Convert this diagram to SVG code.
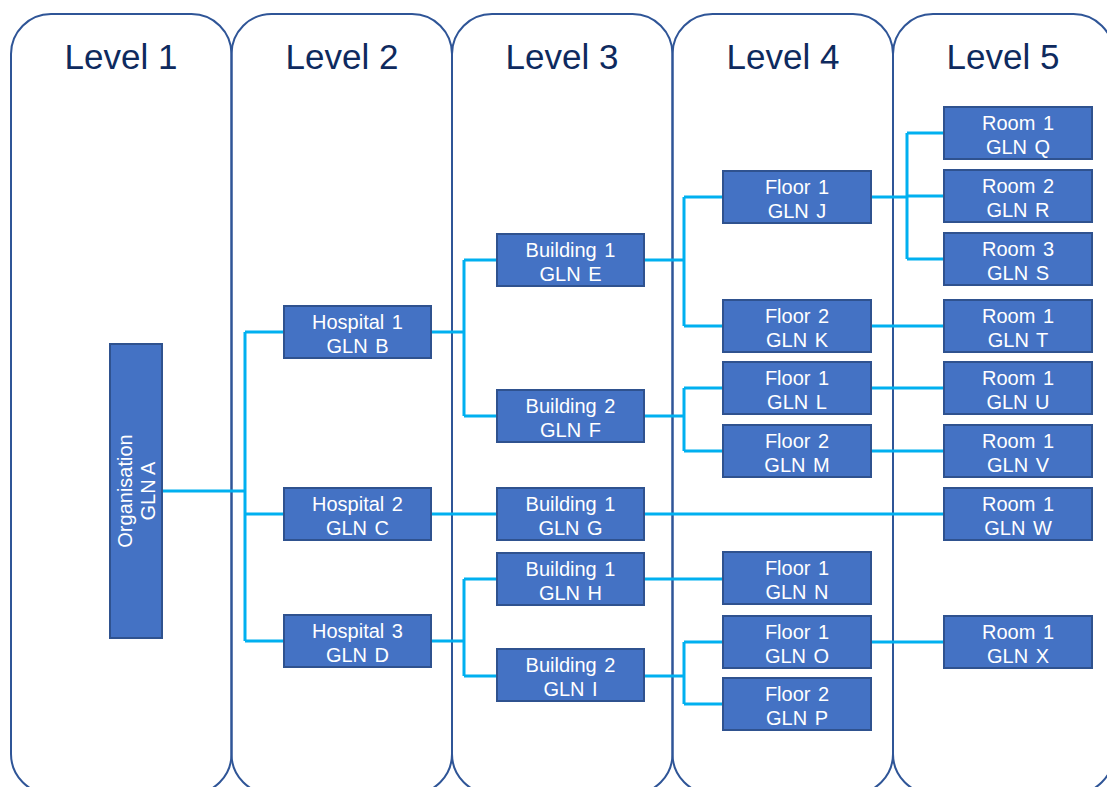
<svg xmlns="http://www.w3.org/2000/svg" width="1107" height="787" viewBox="0 0 1107 787">
<style>
.col{fill:none;stroke:#2F5597;stroke-width:2}
.lvl{font-family:"Liberation Sans",Arial,sans-serif;font-size:35px;fill:#0E2A5E;text-anchor:middle}
.box{fill:#4472C4;stroke:#2F528F;stroke-width:2}
.t{font-family:"Liberation Sans",Arial,sans-serif;font-size:20px;fill:#FFFFFF;text-anchor:middle;word-spacing:2px}
.ot{font-family:"Liberation Sans",Arial,sans-serif;font-size:20px;fill:#FFFFFF;text-anchor:middle}
.c{fill:none;stroke:#00B0F0;stroke-width:3}
</style>
<rect width="1107" height="787" fill="#FFFFFF"/>
<g id="columns">
<rect class="col" x="11" y="14" width="220.5" height="780" rx="40" ry="40"/>
<rect class="col" x="231.5" y="14" width="220.5" height="780" rx="40" ry="40"/>
<rect class="col" x="452" y="14" width="220.5" height="780" rx="40" ry="40"/>
<rect class="col" x="672.5" y="14" width="220.5" height="780" rx="40" ry="40"/>
<rect class="col" x="893" y="14" width="220.5" height="780" rx="40" ry="40"/>
<text class="lvl" x="121" y="69">Level 1</text>
<text class="lvl" x="342" y="69">Level 2</text>
<text class="lvl" x="562" y="69">Level 3</text>
<text class="lvl" x="783" y="69">Level 4</text>
<text class="lvl" x="1003" y="69">Level 5</text>
</g>
<g id="connectors">
<path class="c" d="M162,491 H245 M245,332 V641 M245,332 H284 M245,514 H284 M245,641 H284"/>
<path class="c" d="M431,332 H464 M464,260 V416 M464,260 H497 M464,416 H497"/>
<path class="c" d="M431,514 H497"/>
<path class="c" d="M431,641 H464 M464,579 V676 M464,579 H497 M464,676 H497"/>
<path class="c" d="M644,260 H684 M684,197 V326 M684,197 H723 M684,326 H723"/>
<path class="c" d="M644,416 H684 M684,388 V451 M684,388 H723 M684,451 H723"/>
<path class="c" d="M644,514 H944"/>
<path class="c" d="M644,579 H723"/>
<path class="c" d="M644,676 H684 M684,642 V704 M684,642 H723 M684,704 H723"/>
<path class="c" d="M871,197 H907 M907,133 V259 M907,133 H944 M907,196 H944 M907,259 H944"/>
<path class="c" d="M871,326 H944"/>
<path class="c" d="M871,388 H944"/>
<path class="c" d="M871,451 H944"/>
<path class="c" d="M871,642 H944"/>
</g>
<g id="nA"><rect class="box" x="110" y="344" width="52" height="294"/><g transform="translate(136,491) rotate(-90)"><text class="ot" x="0" y="-4">Organisation</text><text class="ot" x="0" y="19">GLN A</text></g></g>
<g id="nB"><rect class="box" x="284" y="306" width="147" height="52"/><text class="t" x="357.5" y="329">Hospital 1</text><text class="t" x="357.5" y="353">GLN B</text></g>
<g id="nC"><rect class="box" x="284" y="488" width="147" height="52"/><text class="t" x="357.5" y="511">Hospital 2</text><text class="t" x="357.5" y="535">GLN C</text></g>
<g id="nD"><rect class="box" x="284" y="615" width="147" height="52"/><text class="t" x="357.5" y="638">Hospital 3</text><text class="t" x="357.5" y="662">GLN D</text></g>
<g id="nE"><rect class="box" x="497" y="234" width="147" height="52"/><text class="t" x="570.5" y="257">Building 1</text><text class="t" x="570.5" y="281">GLN E</text></g>
<g id="nF"><rect class="box" x="497" y="390" width="147" height="52"/><text class="t" x="570.5" y="413">Building 2</text><text class="t" x="570.5" y="437">GLN F</text></g>
<g id="nG"><rect class="box" x="497" y="488" width="147" height="52"/><text class="t" x="570.5" y="511">Building 1</text><text class="t" x="570.5" y="535">GLN G</text></g>
<g id="nH"><rect class="box" x="497" y="553" width="147" height="52"/><text class="t" x="570.5" y="576">Building 1</text><text class="t" x="570.5" y="600">GLN H</text></g>
<g id="nI"><rect class="box" x="497" y="649" width="147" height="52"/><text class="t" x="570.5" y="672">Building 2</text><text class="t" x="570.5" y="696">GLN I</text></g>
<g id="nJ"><rect class="box" x="723" y="171" width="148" height="52"/><text class="t" x="797" y="194">Floor 1</text><text class="t" x="797" y="218">GLN J</text></g>
<g id="nK"><rect class="box" x="723" y="300" width="148" height="52"/><text class="t" x="797" y="323">Floor 2</text><text class="t" x="797" y="347">GLN K</text></g>
<g id="nL"><rect class="box" x="723" y="362" width="148" height="52"/><text class="t" x="797" y="385">Floor 1</text><text class="t" x="797" y="409">GLN L</text></g>
<g id="nM"><rect class="box" x="723" y="425" width="148" height="52"/><text class="t" x="797" y="448">Floor 2</text><text class="t" x="797" y="472">GLN M</text></g>
<g id="nN"><rect class="box" x="723" y="552" width="148" height="52"/><text class="t" x="797" y="575">Floor 1</text><text class="t" x="797" y="599">GLN N</text></g>
<g id="nO"><rect class="box" x="723" y="616" width="148" height="52"/><text class="t" x="797" y="639">Floor 1</text><text class="t" x="797" y="663">GLN O</text></g>
<g id="nP"><rect class="box" x="723" y="678" width="148" height="52"/><text class="t" x="797" y="701">Floor 2</text><text class="t" x="797" y="725">GLN P</text></g>
<g id="nQ"><rect class="box" x="944" y="107" width="148" height="52"/><text class="t" x="1018" y="130">Room 1</text><text class="t" x="1018" y="154">GLN Q</text></g>
<g id="nR"><rect class="box" x="944" y="170" width="148" height="52"/><text class="t" x="1018" y="193">Room 2</text><text class="t" x="1018" y="217">GLN R</text></g>
<g id="nS"><rect class="box" x="944" y="233" width="148" height="52"/><text class="t" x="1018" y="256">Room 3</text><text class="t" x="1018" y="280">GLN S</text></g>
<g id="nT"><rect class="box" x="944" y="300" width="148" height="52"/><text class="t" x="1018" y="323">Room 1</text><text class="t" x="1018" y="347">GLN T</text></g>
<g id="nU"><rect class="box" x="944" y="362" width="148" height="52"/><text class="t" x="1018" y="385">Room 1</text><text class="t" x="1018" y="409">GLN U</text></g>
<g id="nV"><rect class="box" x="944" y="425" width="148" height="52"/><text class="t" x="1018" y="448">Room 1</text><text class="t" x="1018" y="472">GLN V</text></g>
<g id="nW"><rect class="box" x="944" y="488" width="148" height="52"/><text class="t" x="1018" y="511">Room 1</text><text class="t" x="1018" y="535">GLN W</text></g>
<g id="nX"><rect class="box" x="944" y="616" width="148" height="52"/><text class="t" x="1018" y="639">Room 1</text><text class="t" x="1018" y="663">GLN X</text></g>
</svg>
